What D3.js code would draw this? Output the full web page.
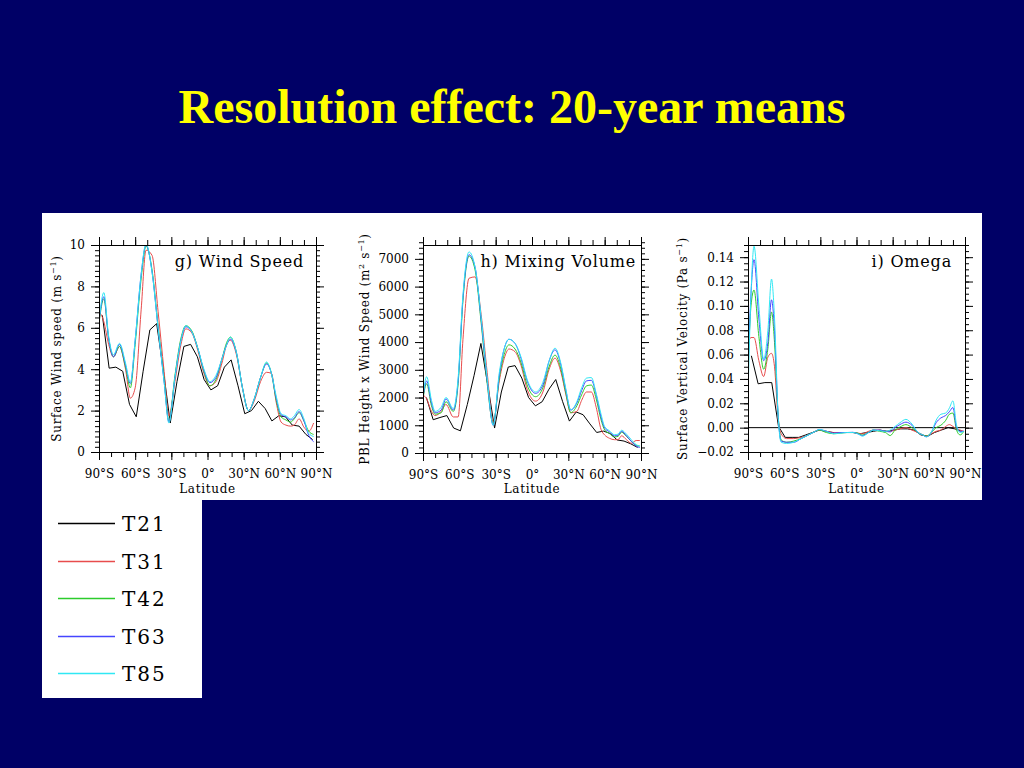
<!DOCTYPE html>
<html lang="en">

<head>
    <meta charset="UTF-8">
    <meta name="viewport" content="width=device-width, initial-scale=1.0">
    <script src="https://cdnjs.cloudflare.com/ajax/libs/d3/7.9.0/d3.min.js"></script>
    <title>Resolution effect: 20-year means</title>
    <style>
        body {
            margin: 0;
            background-color: #000066;
        }

        svg {
            display: block;
        }

        .slide-title {
            font-family: "Liberation Serif", "Times New Roman", serif;
            font-weight: bold;
            font-size: 48px;
            fill: #ffff00;
        }

        .tick text {
            font-family: "DejaVu Serif", serif;
            font-size: 12px;
            fill: #000;
        }

        .axis-title {
            font-family: "DejaVu Serif", serif;
            font-size: 12px;
            letter-spacing: 0.7px;
            fill: #000;
        }

        .panel-title {
            font-family: "DejaVu Serif", serif;
            font-size: 16px;
            letter-spacing: 0.8px;
            fill: #000;
        }

        .legend-label {
            font-family: "DejaVu Serif", serif;
            font-size: 20px;
            letter-spacing: 2px;
            fill: #000;
        }
    </style>
</head>

<body>
    <svg id="chart" width="1024" height="768"></svg>
    <script>
        // ---- data ----
        const slideTitle = "Resolution effect: 20-year means";
        const models = ["T21", "T31", "T42", "T63", "T85"];
        const modelColors = ["#000000", "#e84c4c", "#2ccc2c", "#4646ff", "#30e8f4"];
        const panelTitles = ["g) Wind Speed", "h) Mixing Volume", "i) Omega"];

        const latTicks = [-90, -60, -30, 0, 30, 60, 90];
        const latTickLabels = ["90°S", "60°S", "30°S", "0°", "30°N", "60°N", "90°N"];

        const windTicks = [0, 2, 4, 6, 8, 10];
        const windTickLabels = ["0", "2", "4", "6", "8", "10"];
        const mixTicks = [0, 1000, 2000, 3000, 4000, 5000, 6000, 7000];
        const mixTickLabels = ["0", "1000", "2000", "3000", "4000", "5000", "6000", "7000"];
        const omegaTicks = [-0.02, 0, 0.02, 0.04, 0.06, 0.08, 0.10, 0.12, 0.14];
        const omegaTickLabels = ["−0.02", "0.00", "0.02", "0.04", "0.06", "0.08", "0.10", "0.12", "0.14"];

        // T21 gaussian latitudes (shared by all three panels)
        const latT21 = [-87.2, -81.6, -76.0, -70.3, -64.7, -59.1, -53.4, -47.8, -42.2, -36.5, -30.9, -25.3,
            -19.6, -14.0, -8.4, -2.8, 2.8, 8.4, 14.0, 19.6, 25.3, 30.9, 36.5, 42.2, 47.8, 53.4, 59.1, 64.7,
            70.3, 76.0, 81.6, 87.2];

        // g) surface wind speed (m/s)
        const latG = [-90, -86, -82, -78, -73, -68, -64, -60, -55, -51, -46, -41, -36, -32, -27, -22, -18, -13,
            -8, -3, 2, 7, 12, 16, 19, 24, 29, 34, 39, 44, 49, 53, 57, 61, 65, 69, 72, 76, 80, 84, 88];
        const windT21 = [6.6, 4.05, 4.1, 3.9, 2.3, 1.7, 3.9, 5.9, 6.2, 3.9, 1.4, 3.4, 5.1, 5.2, 4.6, 3.5, 3.0,
            3.2, 4.1, 4.45, 3.2, 1.85, 2.0, 2.45, 2.1, 1.5, 1.75, 1.7, 1.3, 1.25, 0.85, 0.6];
        const windT31 = [6.8, 6.3, 5.2, 4.6, 5.1, 4.0, 2.6, 3.1, 6.9, 9.75, 9.5, 6.8, 3.9, 1.75, 3.4, 5.2, 5.95,
            5.75, 4.9, 3.8, 3.2, 3.4, 4.3, 5.2, 5.4, 4.7, 3.1, 2.0, 2.5, 3.4, 3.85, 3.8, 2.4, 1.45, 1.3, 1.25,
            1.3, 1.6, 1.2, 1.0, 1.4];
        const windT42 = [6.2, 7.4, 5.5, 4.6, 5.1, 4.1, 3.1, 5.2, 8.4, 9.95, 8.8, 6.1, 3.5, 1.5, 3.7, 5.5, 6.1,
            5.85, 5.0, 3.9, 3.2, 3.5, 4.5, 5.3, 5.55, 4.8, 3.1, 2.0, 2.6, 3.6, 4.3, 3.8, 2.5, 1.7, 1.55, 1.45,
            1.6, 1.9, 1.5, 1.0, 0.85];
        const windT63 = [6.3, 7.5, 5.5, 4.6, 5.2, 4.2, 3.3, 5.4, 8.6, 10.0, 8.7, 6.0, 3.4, 1.45, 3.6, 5.4, 6.05,
            5.8, 5.0, 3.95, 3.35, 3.6, 4.5, 5.2, 5.45, 4.8, 3.1, 2.0, 2.6, 3.6, 4.25, 3.8, 2.6, 1.8, 1.7, 1.55,
            1.65, 1.95, 1.5, 0.8, 0.5];
        const windT85 = [6.3, 7.7, 5.6, 4.7, 5.25, 4.3, 3.35, 5.4, 8.6, 10.05, 8.7, 6.0, 3.4, 1.4, 3.6, 5.4, 6.1,
            5.8, 5.0, 4.0, 3.4, 3.7, 4.5, 5.2, 5.55, 4.8, 3.1, 2.0, 2.6, 3.6, 4.35, 3.8, 2.7, 1.85, 1.75, 1.6,
            1.75, 2.05, 1.6, 0.9, 0.75];

        // h) PBL height x wind speed (m2/s)
        const latH = [-90, -87, -83, -80, -75, -71, -65, -61, -57, -52, -47, -42, -37, -32, -27, -23, -19, -14,
            -9, -4, 3, 9, 14, 19, 24, 28, 32, 37, 41, 45, 49, 53, 57, 60, 64, 68, 71, 74, 78, 82, 86, 89];
        const mixT21 = [2000, 1200, 1280, 1350, 900, 800, 1750, 2800, 3950, 2450, 900, 2200, 3100, 3150, 2700,
            2000, 1700, 1850, 2300, 2650, 1850, 1150, 1480, 1380, 1050, 740, 790, 700, 470, 430, 330, 200];
        const mixT31 = [2100, 1950, 1500, 1350, 1500, 1750, 1300, 1300, 4100, 6300, 6350, 5000, 2900, 1100, 2600,
            3400, 3750, 3650, 3150, 2300, 1870, 2200, 3000, 3420, 2900, 2100, 1450, 1500, 1900, 2200, 2200, 1650,
            850, 650, 530, 480, 480, 620, 480, 350, 450, 450];
        const mixT42 = [1950, 2500, 1700, 1400, 1450, 1850, 1500, 2500, 5500, 7100, 6600, 4700, 2500, 1050, 2700,
            3550, 3900, 3750, 3250, 2450, 2030, 2350, 3100, 3530, 3000, 2150, 1450, 1700, 2100, 2420, 2450, 1950,
            1200, 830, 700, 580, 600, 750, 600, 420, 280, 250];
        const mixT63 = [2000, 2600, 1800, 1450, 1550, 1950, 1550, 2600, 5600, 7150, 6700, 4800, 2600, 1000, 2800,
            3750, 4100, 3950, 3400, 2600, 2150, 2450, 3300, 3720, 3150, 2250, 1550, 1800, 2250, 2600, 2620, 2100,
            1300, 900, 760, 620, 640, 780, 620, 420, 250, 200];
        const mixT85 = [2050, 2750, 1900, 1500, 1650, 2000, 1600, 2700, 5700, 7250, 6700, 4900, 2700, 1000, 2900,
            3750, 4100, 3950, 3450, 2650, 2200, 2550, 3300, 3780, 3200, 2300, 1550, 1850, 2350, 2700, 2720, 2150,
            1400, 950, 800, 660, 680, 820, 680, 480, 300, 250];

        // i) surface vertical velocity (Pa/s)
        const latI = [-90, -87.5, -85, -81, -77, -73.5, -70.5, -68, -65, -62.5, -58, -52, -46, -40, -34, -31, -25,
            -19, -13, -8, -3, 1, 5, 10, 14, 19, 24, 28, 32, 36, 41, 46, 51, 55, 58, 62, 66, 70, 74, 77, 80, 83,
            86, 89];
        const omegaT21 = [0.059, 0.036, 0.037, 0.037, 0.001, -0.008, -0.008, -0.008, -0.006, -0.004, -0.002,
            -0.003, -0.004, -0.004, -0.004, -0.004, -0.005, -0.004, -0.003, -0.002, -0.003, -0.002, -0.001,
            -0.001, -0.002, -0.006, -0.007, -0.004, -0.002, 0.0, -0.001, -0.003];
        const omegaT31 = [0.070, 0.074, 0.074, 0.055, 0.042, 0.058, 0.061, 0.050, 0.007, -0.005, -0.009, -0.009,
            -0.008, -0.006, -0.003, -0.002, -0.003, -0.004, -0.004, -0.004, -0.004, -0.0045, -0.005, -0.003,
            -0.002, -0.002, -0.003, -0.003, -0.002, -0.001, 0.0, -0.002, -0.004, -0.006, -0.007, -0.005, -0.003,
            -0.002, 0.001, 0.0025, 0.001, -0.001, -0.002, -0.003];
        const omegaT42 = [0.050, 0.100, 0.113, 0.075, 0.048, 0.065, 0.095, 0.070, 0.010, -0.010, -0.012, -0.011,
            -0.009, -0.006, -0.003, -0.002, -0.004, -0.005, -0.0045, -0.004, -0.004, -0.0045, -0.006, -0.004,
            -0.002, -0.003, -0.004, -0.0065, -0.002, 0.0005, 0.0025, 0.0, -0.004, -0.006, -0.007, -0.004, 0.0,
            0.002, 0.006, 0.011, 0.012, -0.002, -0.006, -0.003];
        const omegaT63 = [0.045, 0.110, 0.138, 0.090, 0.055, 0.070, 0.105, 0.080, 0.010, -0.011, -0.012, -0.012,
            -0.009, -0.006, -0.003, -0.0015, -0.003, -0.0045, -0.004, -0.004, -0.0038, -0.005, -0.0065, -0.004,
            -0.002, -0.002, -0.003, -0.0035, 0.0, 0.0025, 0.0045, 0.002, -0.004, -0.006, -0.0075, -0.004, 0.004,
            0.008, 0.010, 0.013, 0.0165, 0.0, -0.003, -0.003];
        const omegaT85 = [0.026, 0.110, 0.149, 0.100, 0.056, 0.080, 0.122, 0.090, 0.010, -0.012, -0.013, -0.012,
            -0.009, -0.006, -0.003, -0.0015, -0.003, -0.005, -0.0045, -0.004, -0.004, -0.005, -0.007, -0.004,
            -0.002, -0.0025, -0.003, -0.002, 0.001, 0.004, 0.0068, 0.003, -0.004, -0.006, -0.0075, -0.004, 0.006,
            0.011, 0.012, 0.016, 0.022, 0.002, -0.004, -0.003];

        // ---- layout ----
        const width = 1024;
        const height = 768;

        const panels = [
            {
                key: "g", title: panelTitles[0], lats: latG,
                series: [windT21, windT31, windT42, windT63, windT85],
                yDomain: [0, 10], yTicks: windTicks, yLabels: windTickLabels, yMinor: 0.25,
                yTitle: [["Surface Wind speed (m s", false], ["−1", true], [")", false]],
                x0: 99, x1: 316, y0: 245, y1: 452, yTitleX: 61, titleRight: 304
            },
            {
                key: "h", title: panelTitles[1], lats: latH,
                series: [mixT21, mixT31, mixT42, mixT63, mixT85],
                yDomain: [0, 7500], yTicks: mixTicks, yLabels: mixTickLabels, yMinor: 200,
                yTitle: [["PBL Height x Wind Speed (m", false], ["2", true], [" s", false], ["−1", true], [")", false]],
                x0: 423, x1: 641, y0: 245, y1: 453, yTitleX: 369, titleRight: 636
            },
            {
                key: "i", title: panelTitles[2], lats: latI,
                series: [omegaT21, omegaT31, omegaT42, omegaT63, omegaT85],
                yDomain: [-0.02, 0.15], yTicks: omegaTicks, yLabels: omegaTickLabels, yMinor: 0.005,
                yTitle: [["Surface Vertical Velocity (Pa s", false], ["−1", true], [")", false]],
                x0: 748, x1: 965, y0: 245, y1: 452, yTitleX: 687, titleRight: 952, zeroLine: true
            }
        ];

        const svg = d3.select("#chart");

        svg.append("rect")
            .attr("width", width)
            .attr("height", height)
            .attr("fill", "#000066");

        svg.append("text")
            .attr("class", "slide-title")
            .attr("x", 512)
            .attr("y", 123)
            .attr("text-anchor", "middle")
            .text(slideTitle);

        // white image area + legend box
        svg.append("rect").attr("x", 42).attr("y", 213).attr("width", 940).attr("height", 287).attr("fill", "#fff");
        svg.append("rect").attr("x", 42).attr("y", 498).attr("width", 160).attr("height", 200).attr("fill", "#fff");

        const latMinor = d3.range(-90, 91, 10);

        function drawPanel(p) {
            const g = svg.append("g").attr("class", "panel-" + p.key);

            const x = d3.scaleLinear().domain([-90, 90]).range([p.x0, p.x1]);
            const y = d3.scaleLinear().domain(p.yDomain).range([p.y1, p.y0]);

            const yMinorVals = d3.range(Math.round((p.yDomain[1] - p.yDomain[0]) / p.yMinor) + 1)
                .map(k => p.yDomain[0] + k * p.yMinor);

            const clean = sel => sel.select(".domain").remove();

            // x minor ticks, bottom and top
            g.append("g").attr("transform", `translate(0,${p.y1})`)
                .call(d3.axisBottom(x).tickValues(latMinor).tickSize(5).tickFormat("")).call(clean);
            g.append("g").attr("transform", `translate(0,${p.y0})`)
                .call(d3.axisTop(x).tickValues(latMinor).tickSize(5).tickFormat("")).call(clean);

            // x major ticks with labels
            g.append("g").attr("transform", `translate(0,${p.y1})`)
                .call(d3.axisBottom(x).tickValues(latTicks).tickSize(8).tickPadding(9)
                    .tickFormat((d, i) => latTickLabels[i])).call(clean);
            g.append("g").attr("transform", `translate(0,${p.y0})`)
                .call(d3.axisTop(x).tickValues(latTicks).tickSize(8).tickFormat("")).call(clean);

            // y minor ticks, left and right
            g.append("g").attr("transform", `translate(${p.x0},0)`)
                .call(d3.axisLeft(y).tickValues(yMinorVals).tickSize(4).tickFormat("")).call(clean);
            g.append("g").attr("transform", `translate(${p.x1},0)`)
                .call(d3.axisRight(y).tickValues(yMinorVals).tickSize(4).tickFormat("")).call(clean);

            // y major ticks with labels
            g.append("g").attr("transform", `translate(${p.x0},0)`)
                .call(d3.axisLeft(y).tickValues(p.yTicks).tickSize(8).tickPadding(6)
                    .tickFormat((d, i) => p.yLabels[i])).call(clean);
            g.append("g").attr("transform", `translate(${p.x1},0)`)
                .call(d3.axisRight(y).tickValues(p.yTicks).tickSize(8).tickFormat("")).call(clean);

            // clip for curves
            const clipId = "clip-" + p.key;
            svg.append("clipPath").attr("id", clipId)
                .append("rect")
                .attr("x", p.x0).attr("y", p.y0)
                .attr("width", p.x1 - p.x0).attr("height", p.y1 - p.y0);

            if (p.zeroLine) {
                g.append("line")
                    .attr("x1", p.x0).attr("x2", p.x1)
                    .attr("y1", y(0)).attr("y2", y(0))
                    .attr("stroke", "#000")
                    .attr("stroke-width", 1);
            }

            // curves: T21 on its own coarse grid, others on the panel grid
            const curves = g.append("g").attr("clip-path", `url(#${clipId})`);
            p.series.forEach((vals, si) => {
                const lats = si === 0 ? latT21 : p.lats;
                const line = d3.line()
                    .x((d, i) => x(lats[i]))
                    .y(d => y(d))
                    .curve(si === 0 ? d3.curveLinear : d3.curveMonotoneX);
                curves.append("path")
                    .datum(vals)
                    .attr("d", line)
                    .attr("fill", "none")
                    .attr("stroke", modelColors[si])
                    .attr("stroke-width", 1);
            });

            // frame
            g.append("rect")
                .attr("x", p.x0 + 0.5).attr("y", p.y0 + 0.5)
                .attr("width", p.x1 - p.x0).attr("height", p.y1 - p.y0)
                .attr("fill", "none")
                .attr("stroke", "#000")
                .attr("stroke-width", 1);

            // panel title
            g.append("text")
                .attr("class", "panel-title")
                .attr("x", p.titleRight)
                .attr("y", 267)
                .attr("text-anchor", "end")
                .text(p.title);

            // x axis title
            g.append("text")
                .attr("class", "axis-title")
                .attr("x", (p.x0 + p.x1) / 2)
                .attr("y", 493)
                .attr("text-anchor", "middle")
                .text("Latitude");

            // y axis title (rotated, with superscripts)
            const yt = g.append("text")
                .attr("class", "axis-title")
                .attr("text-anchor", "middle")
                .attr("transform", `translate(${p.yTitleX},${(p.y0 + p.y1) / 2}) rotate(-90)`);
            p.yTitle.forEach(([txt, sup], k) => {
                const prevSup = k > 0 && p.yTitle[k - 1][1];
                yt.append("tspan")
                    .attr("dy", sup ? -5 : (prevSup ? 5 : 0))
                    .attr("font-size", sup ? 8 : null)
                    .text(txt);
            });
        }

        panels.forEach(drawPanel);

        // legend
        const legend = svg.append("g").attr("class", "legend");
        models.forEach((m, i) => {
            const ly = Math.round(523 + i * 37.5) + 0.5;
            legend.append("line")
                .attr("x1", 58).attr("x2", 115)
                .attr("y1", ly).attr("y2", ly)
                .attr("stroke", modelColors[i])
                .attr("stroke-width", 1.5);
            legend.append("text")
                .attr("class", "legend-label")
                .attr("x", 122)
                .attr("y", ly + 7.5)
                .text(m);
        });
    </script>
</body>

</html>
